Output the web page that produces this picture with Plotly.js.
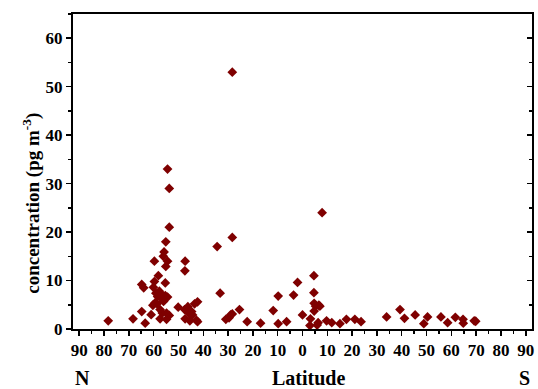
<!DOCTYPE html>
<html><head><meta charset="utf-8">
<script src="https://cdn.plot.ly/plotly-3.0.1.min.js"></script>
<style>body{margin:0;background:#fff}#chart{width:538px;height:389px}</style>
</head><body><div id="chart"></div>
<script>
// latitude: negative = North, positive = South
const latitude = [-78.3,-68.3,-63.4,-64.8,-64.8,-64.0,-61.0,-59.7,-59.7,-60.1,-60.3,-58.1,-59.1,-58.4,-57.7,-58.6,-57.4,-57.4,-56.5,-56.0,-56.1,-55.8,-55.3,-55.1,-55.1,-54.4,-55.3,-54.4,-54.8,-54.8,-53.7,-54.4,-53.7,-53.7,-50.1,-47.3,-47.4,-47.5,-47.3,-46.2,-45.9,-45.4,-44.7,-44.3,-43.5,-42.3,-42.7,-42.3,-34.4,-33.2,-30.9,-29.6,-29.0,-28.3,-28.3,-28.3,-25.4,-22.3,-16.9,-11.8,-9.8,-9.8,-6.4,-3.6,-2.0,0.0,3.0,3.2,4.6,4.6,4.7,4.7,5.3,5.9,6.3,6.6,7.0,7.9,9.7,11.8,15.1,17.7,21.1,23.6,33.9,39.3,41.1,45.4,48.9,50.4,55.8,58.5,61.6,64.7,64.8,69.2,69.8,-57.0,-59.4,-56.6];
const concentration = [1.7,2.1,1.2,3.6,9.2,8.5,2.95,14,9.8,8.6,4.9,11,7.4,6.7,7.8,5.2,4.0,2.1,3.3,5.7,15,15.9,9.5,18,12.9,14,6.9,6.6,3.3,2.0,2.8,33,29,21,4.5,14,12,4.0,2.1,4.6,3.3,1.7,3.6,2.9,5.2,5.6,1.8,1.5,17,7.4,2.0,2.3,2.9,3.1,53,18.9,4.0,1.5,1.2,3.8,1.1,6.8,1.5,7.0,9.6,2.9,0.7,2.1,11,7.5,5.3,3.7,4.7,0.8,1.3,4.9,4.7,24,1.7,1.3,1.1,2.0,2.0,1.5,2.5,4.0,2.2,2.9,1.1,2.5,2.5,1.3,2.4,2.0,1.2,1.7,1.6,7.2,5.4,6.2];
const xTickVals = [-90,-80,-70,-60,-50,-40,-30,-20,-10,0,10,20,30,40,50,60,70,80,90];
const xTickText = ['90','80','70','60','50','40','30','20','10','0','10','20','30','40','50','60','70','80','90'];
const yTickVals = [0,10,20,30,40,50,60];

const fontFam = 'Liberation Serif, Times New Roman, serif';
const markerColor = '#7f0000';
const tf = {family: fontFam, size: 17, weight: 'bold', color: '#000'};
const af = {family: fontFam, size: 20, weight: 'bold', color: '#000'};

const traces = [
  {x: latitude, y: concentration, type: 'scatter', mode: 'markers',
   marker: {symbol: 'diamond', size: 7.5, color: markerColor}},
  {x: [0], y: [0], type: 'scatter', mode: 'markers', yaxis: 'y2',
   marker: {opacity: 0}, showlegend: false}
];

const layout = {
  width: 538, height: 389,
  margin: {l: 73, r: 6, t: 14, b: 60},
  showlegend: false,
  font: {family: fontFam, color: '#000'},
  xaxis: {
    range: [-92.5, 92.5], tickvals: xTickVals, ticktext: xTickText,
    ticks: 'outside', ticklen: 5, tickwidth: 1.5, tickcolor: '#000',
    minor: {dtick: 5, tick0: 0, ticks: 'outside', ticklen: 3, tickwidth: 1.5, tickcolor: '#000'},
    showline: true, linewidth: 2, linecolor: '#000', mirror: true,
    showgrid: false, zeroline: false, tickfont: tf
  },
  yaxis: {
    range: [0, 65], tickvals: yTickVals,
    ticks: 'outside', ticklen: 5, tickwidth: 1.5, tickcolor: '#000',
    minor: {dtick: 5, tick0: 0, ticks: 'outside', ticklen: 3, tickwidth: 1.5, tickcolor: '#000'},
    showline: true, linewidth: 2, linecolor: '#000',
    showgrid: false, zeroline: false, tickfont: tf
  },
  yaxis2: {
    range: [0, 65], overlaying: 'y', side: 'right', tickvals: yTickVals,
    ticks: 'inside', ticklen: 5, tickwidth: 1.5, tickcolor: '#000',
    minor: {dtick: 5, tick0: 0, ticks: 'inside', ticklen: 3, tickwidth: 1.5, tickcolor: '#000'},
    showline: true, linewidth: 2, linecolor: '#000',
    showgrid: false, zeroline: false, showticklabels: false
  },
  annotations: [
    {text: 'concentration (pg m<sup>-3</sup>)', xref: 'paper', yref: 'paper',
     x: -0.092, y: 0.40, xanchor: 'center', yanchor: 'middle', textangle: -90,
     showarrow: false, font: {family: fontFam, size: 19, weight: 'bold', color: '#000'}},
    {text: 'Latitude', xref: 'paper', yref: 'paper', x: 0.512, y: -0.155,
     xanchor: 'center', yanchor: 'middle', showarrow: false, font: af},
    {text: 'N', xref: 'paper', yref: 'paper', x: 0.021, y: -0.155,
     xanchor: 'center', yanchor: 'middle', showarrow: false, font: af},
    {text: 'S', xref: 'paper', yref: 'paper', x: 0.984, y: -0.155,
     xanchor: 'center', yanchor: 'middle', showarrow: false, font: af}
  ]
};

Plotly.newPlot('chart', traces, layout, {displayModeBar: false, staticPlot: true});
</script>
</body></html>
